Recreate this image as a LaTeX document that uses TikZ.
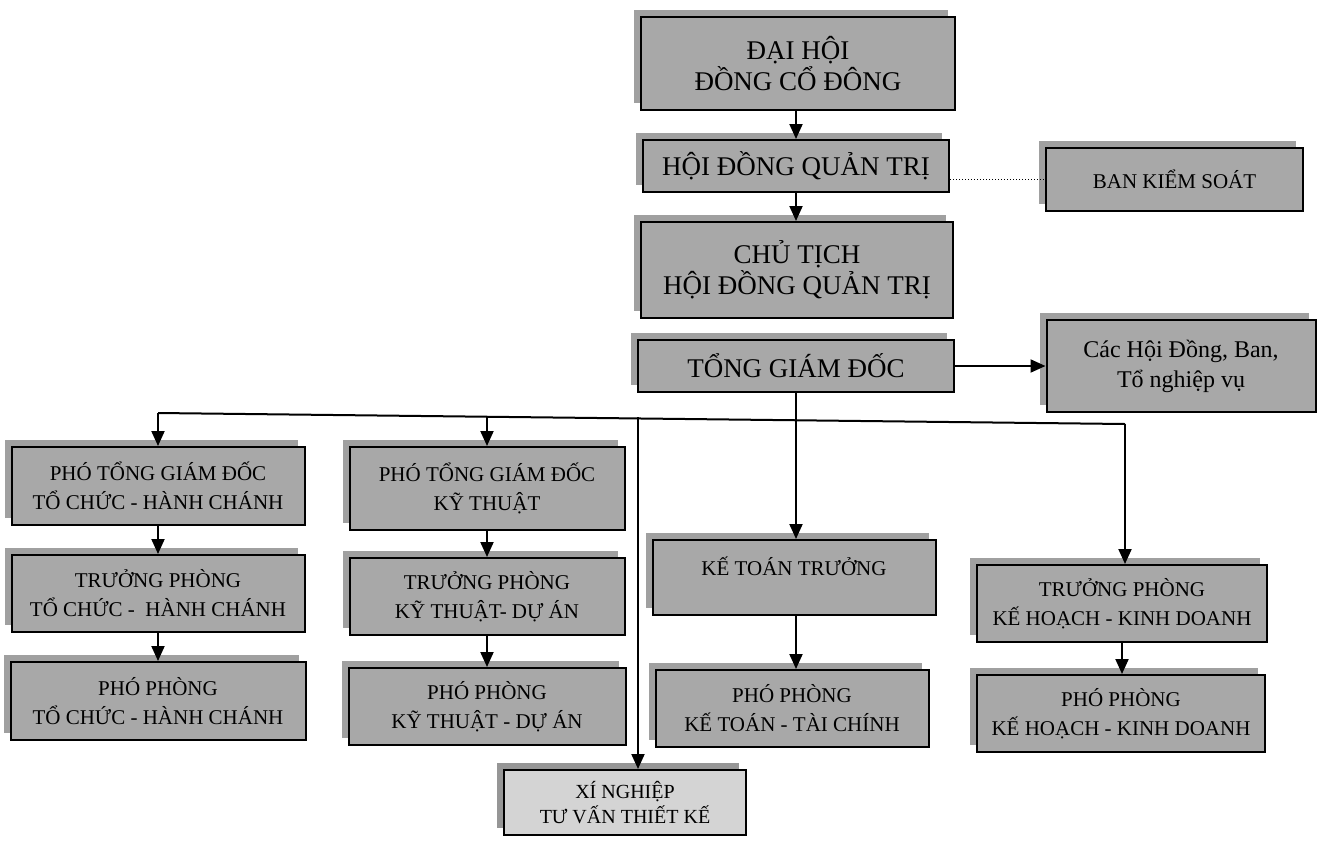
\documentclass[tikz,border=0pt]{standalone}
\usepackage{fontspec}
\setmainfont{Liberation Serif}
\usetikzlibrary{arrows.meta,shadows}
\definecolor{boxgray}{RGB}{168,168,168}
\definecolor{shgray}{RGB}{160,160,160}
\definecolor{lightbox}{RGB}{212,212,212}
\definecolor{xnshadow}{RGB}{150,150,150}
\tikzset{
  orgbox/.style={draw=black, line width=2pt, fill=boxgray, align=center, inner sep=0pt,
    general shadow={shadow xshift=-7pt, shadow yshift=7pt, fill=shgray}},
  bigtxt/.style={font=\fontsize{27}{31}\selectfont},
  midtxt/.style={font=\fontsize{24}{30}\selectfont},
  smalltxt/.style={font=\fontsize{21}{29}\selectfont},
  link/.style={line width=2pt, -{Triangle[length=15pt,width=13pt]}},
  plainlink/.style={line width=2pt},
}
\begin{document}
\begin{tikzpicture}[x=1pt,y=-1pt]
\useasboundingbox[fill=white] (0,0) rectangle (1317,841);
% top chain
\node[orgbox,bigtxt,minimum width=314pt,minimum height=93pt] (dh) at (798,63.5) {ĐẠI HỘI\\ĐỒNG CỔ ĐÔNG};
\node[orgbox,bigtxt,minimum width=306pt,minimum height=52pt] (hdqt) at (796,166) {HỘI ĐỒNG QUẢN TRỊ};
\node[orgbox,font=\fontsize{21}{26}\selectfont,minimum width=257pt,minimum height=63pt] (bks) at (1174.5,179) {BAN KIỂM SOÁT};
\node[orgbox,bigtxt,minimum width=312pt,minimum height=96pt] (ct) at (797,270) {CHỦ TỊCH\\HỘI ĐỒNG QUẢN TRỊ};
\node[orgbox,bigtxt,minimum width=316pt,minimum height=52pt] (tgd) at (796,366) {TỔNG GIÁM ĐỐC};
\node[orgbox,midtxt,minimum width=269pt,minimum height=92pt] (cac) at (1181,366) {Các Hội Đồng, Ban,\\Tổ nghiệp vụ};
% column 1
\node[orgbox,smalltxt,minimum width=293pt,minimum height=78pt] (p1) at (158,486) {PHÓ TỔNG GIÁM ĐỐC\\TỔ CHỨC - HÀNH CHÁNH};
\node[orgbox,smalltxt,minimum width=293pt,minimum height=77pt] (p2) at (158,593.5) {TRƯỞNG PHÒNG\\TỔ CHỨC -~ HÀNH CHÁNH};
\node[orgbox,smalltxt,minimum width=295pt,minimum height=78pt] (p3) at (158,701) {PHÓ PHÒNG\\TỔ CHỨC - HÀNH CHÁNH};
% column 2
\node[orgbox,smalltxt,minimum width=275pt,minimum height=83pt] (k1) at (487,488.5) {PHÓ TỔNG GIÁM ĐỐC\\KỸ THUẬT};
\node[orgbox,smalltxt,minimum width=275pt,minimum height=77pt] (k2) at (487,596.5) {TRƯỞNG PHÒNG\\KỸ THUẬT- DỰ ÁN};
\node[orgbox,smalltxt,minimum width=277pt,minimum height=77pt] (k3) at (487,706.5) {PHÓ PHÒNG\\KỸ THUẬT - DỰ ÁN};
% column 3
\node[orgbox,smalltxt,minimum width=283pt,minimum height=75pt,text depth=22pt] (kt1) at (794,577.5) {KẾ TOÁN TRƯỞNG};
\node[orgbox,smalltxt,minimum width=273pt,minimum height=77pt] (kt2) at (792,708.5) {PHÓ PHÒNG\\KẾ TOÁN - TÀI CHÍNH};
% column 4
\node[orgbox,smalltxt,minimum width=290pt,minimum height=77pt] (kh1) at (1122,603.5) {TRƯỞNG PHÒNG\\KẾ HOẠCH - KINH DOANH};
\node[orgbox,smalltxt,minimum width=288pt,minimum height=77pt] (kh2) at (1121,713.5) {PHÓ PHÒNG\\KẾ HOẠCH - KINH DOANH};
% bottom
\node[orgbox,fill=lightbox,general shadow={shadow xshift=-7pt, shadow yshift=7pt, fill=xnshadow},font=\fontsize{20}{25}\selectfont,minimum width=242pt,minimum height=65pt] (xn) at (625,802.5) {XÍ NGHIỆP\\TƯ VẤN THIẾT KẾ};
% bus coordinates
\coordinate (bL) at (158,413);
\coordinate (bR) at (1125,424);
\coordinate (bK) at (487,416);
\coordinate (bX) at (638,417);
% connectors
\draw[link] (dh.south -| hdqt.north) -- (hdqt.north);
\draw[link] (hdqt.south) -- (hdqt.south |- ct.north);
\draw[line width=1pt, dotted] (bks.west -| hdqt.east) -- (bks.west);
\draw[link] (tgd.east) -- (cac.west);
\draw[link] (tgd.south) -- (tgd.south |- kt1.north);
\draw[plainlink] (bL) -- (bR);
\draw[link] (bL) -- (p1.north -| bL);
\draw[link] (bK) -- (k1.north -| bK);
\draw[link] (bX) -- (xn.north -| bX);
\draw[link] (bR) -- (kh1.north -| bR);
\draw[link] (p1.south) -- (p1.south |- p2.north);
\draw[link] (p2.south) -- (p2.south |- p3.north);
\draw[link] (k1.south) -- (k1.south |- k2.north);
\draw[link] (k2.south) -- (k2.south |- k3.north);
\draw[link] (tgd.south |- kt1.south) -- (tgd.south |- kt2.north);
\draw[link] (kh1.south) -- (kh1.south |- kh2.north);
\end{tikzpicture}
\end{document}
